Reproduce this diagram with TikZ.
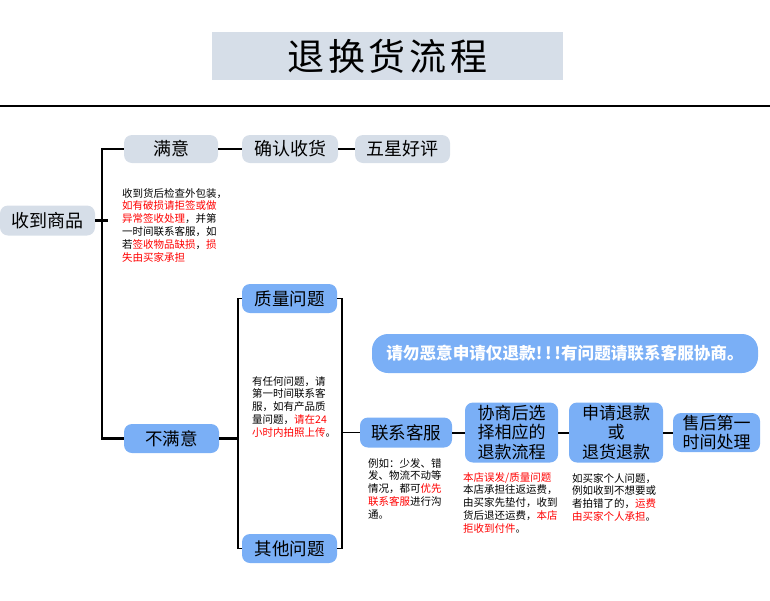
\documentclass[tikz,border=0pt]{standalone}
\usepackage{fontspec}
\setmainfont{Noto Sans CJK SC}
\definecolor{cgrey}{RGB}{214,222,232}
\definecolor{cblue}{RGB}{122,175,246}
\definecolor{cred}{RGB}{255,0,0}
\newcommand{\rd}[1]{\textcolor{cred}{#1}}
\begin{document}
\begin{tikzpicture}[x=1pt,y=-1pt,
  gbox/.style={fill=cgrey, rounded corners=8pt, inner sep=0pt, minimum height=28pt, font=\fontsize{18}{20}\selectfont},
  bbox/.style={fill=cblue, rounded corners=8pt, inner sep=0pt, align=center, font=\fontsize{17.5}{19}\selectfont},
  conn/.style={line width=2.5pt},
  thinln/.style={line width=1.3pt},
  note/.style={font=\fontsize{10.5}{12.8}\selectfont, align=left, anchor=north west, inner sep=0pt}]
\useasboundingbox (0,0) rectangle (770,600);
% title
\node[fill=cgrey, minimum width=351pt, minimum height=48pt, inner sep=0pt, font=\fontsize{37}{40}\selectfont] (title) at (387.5,56)
  {退\hspace{4pt}换\hspace{4pt}货\hspace{4pt}流\hspace{4pt}程};
\coordinate (hl1) at (0,106);
\coordinate (hl2) at (770,106);
\draw[line width=1.3pt] (hl1) -- (hl2);
% grey nodes
\node[gbox, minimum width=95pt, minimum height=30pt] (recv) at (47.5,220.5) {收到商品};
\node[gbox, minimum width=94pt] (satis) at (171,149) {满意};
\node[gbox, minimum width=96pt] (confirm) at (290,149) {确认收货};
\node[gbox, minimum width=95pt] (five) at (402.5,149) {五星好评};
% blue nodes
\node[bbox, minimum width=95pt, minimum height=29pt] (unsat) at (171.5,438.5) {不满意};
\node[bbox, minimum width=95pt, minimum height=29pt] (quality) at (289.5,298.5) {质量问题};
\node[bbox, minimum width=95pt, minimum height=29pt] (other) at (289.5,548.5) {其他问题};
\node[bbox, minimum width=92pt, minimum height=30pt] (contact) at (406,432.5) {联系客服};
\node[bbox, minimum width=93pt, minimum height=60pt, font=\fontsize{17}{19.5}\selectfont] (nego) at (511.5,432.5) {协商后选\\择相应的\\退款流程};
\node[bbox, minimum width=94pt, minimum height=60pt, font=\fontsize{17}{19.5}\selectfont] (apply) at (616,432.5) {申请退款\\或\\退货退款};
\node[bbox, minimum width=87pt, minimum height=39pt, font=\fontsize{17}{19.5}\selectfont] (after) at (716.5,432.5) {售后第一\\时间处理};
\node[fill=cblue, rounded corners=16pt, minimum width=386pt, minimum height=39pt, inner sep=0pt, text=white, font=\fontsize{16.6}{19}\selectfont\bfseries] (banner) at (565,353.5) {请勿恶意申请仅退款!\,!\,!有问题请联系客服协商。};
% connectors
\coordinate (sp) at (102,0);
\coordinate (tickend) at (108,220.5);
\coordinate (lb) at (238,0);
\coordinate (rb) at (342,0);
\draw[conn] (recv.east) -- (tickend);
\draw[conn] (satis.west) -- (satis.west -| sp) |- (unsat.west);
\draw[conn] (satis) -- (confirm);
\draw[conn] (confirm) -- (five);
\draw[conn] (unsat.east) -- (unsat.east -| lb);
\draw[thinln] (quality.west) -- (quality.west -| lb) -- (other.west -| lb) -- (other.west);
\draw[thinln] (quality.east) -- (quality.east -| rb) -- (other.east -| rb) -- (other.east);
\draw[thinln] (contact.west -| rb) -- (contact.west);
\draw[line width=2pt] (contact) -- (nego);
\draw[line width=2pt] (nego) -- (apply);
\draw[line width=2pt] (apply) -- (after);
% notes
\node[note] (n1) at (122,188) {收到货后检查外包装，\\\rd{如有破损请拒签或做}\\\rd{异常签收处理}，并第\\一时间联系客服，如\\若\rd{签收物品缺损}，\rd{损}\\\rd{失由买家承担}};
\node[note] (n2) at (252,376) {有任何问题，请\\第一时间联系客\\服，如有产品质\\量问题，\rd{请在24}\\\rd{小时内拍照上传}。};
\node[note] (n3) at (368,458) {例如：少发、错\\发、物流不动等\\情况，都可\rd{优先}\\\rd{联系客服}进行沟\\通。};
\node[note] (n4) at (463,472) {\rd{本店误发/质量问题}\\本店承担往返运费，\\由买家先垫付，收到\\货后退还运费，\rd{本店}\\\rd{拒收到付件}。};
\node[note] (n5) at (572,473) {如买家个人问题，\\例如收到不想要或\\者拍错了的，\rd{运费}\\\rd{由买家个人承担}。};
\end{tikzpicture}
\end{document}
